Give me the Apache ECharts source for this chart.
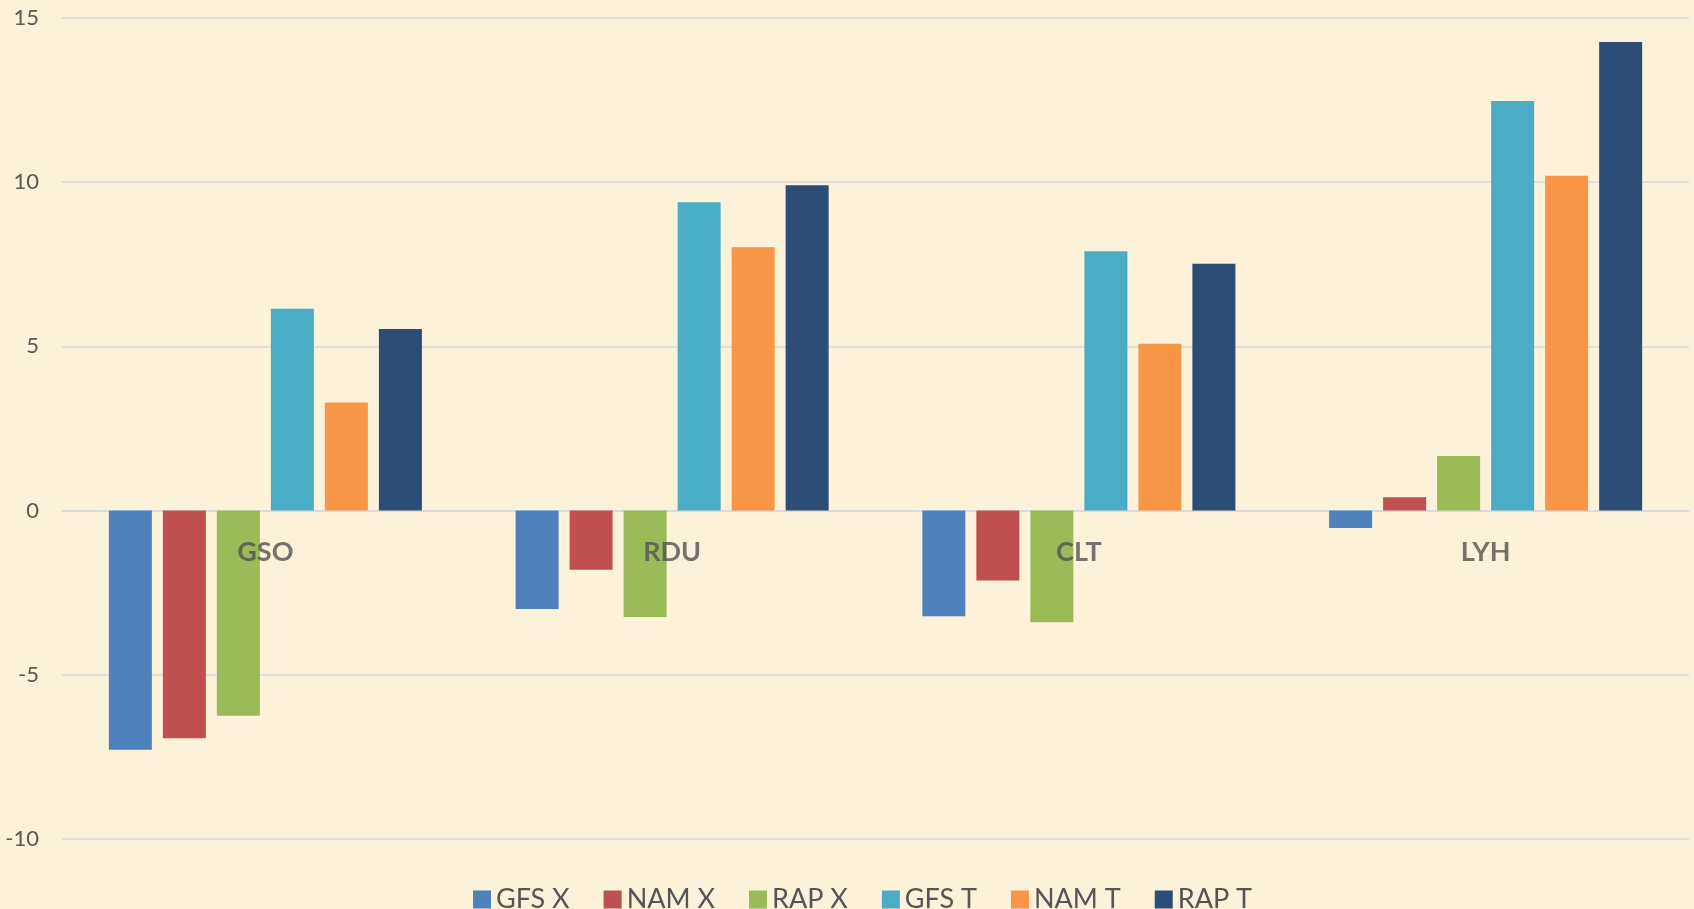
<!DOCTYPE html>
<html>
<head>
<meta charset="utf-8">
<script src="https://cdn.jsdelivr.net/npm/echarts@6/dist/echarts.min.js"></script>
<style>
  html, body { margin: 0; padding: 0; background: #fcf1d9; }
  #chart { width: 1694px; height: 909px; }
</style>
</head>
<body>
<div id="chart"></div>
<script>
// 站点
const categories = ["GSO", "RDU", "CLT", "LYH"];
// 各模式数值
const gfsX = [-7.28, -3.0, -3.22, -0.53];
const namX = [-6.93, -1.8, -2.13, 0.41];
const rapX = [-6.25, -3.24, -3.4, 1.66];
const gfsT = [6.15, 9.39, 7.9, 12.47];
const namT = [3.29, 8.02, 5.08, 10.2];
const rapT = [5.53, 9.91, 7.52, 14.27];
const seriesNames = ["GFS X", "NAM X", "RAP X", "GFS T", "NAM T", "RAP T"];
const seriesData = [gfsX, namX, rapX, gfsT, namT, rapT];
const colors = ["#4f81bd", "#c0504d", "#9bbb59", "#4bacc6", "#f79646", "#2c4d75"];

const chart = echarts.init(document.getElementById("chart"));

// 柱状图系列
const barSeries = seriesNames.map((name, i) => ({
  name: name,
  type: "bar",
  data: seriesData[i],
  barWidth: 43,
  barGap: "25.6%",
}));

// 类目标签贴在零线下方（用不可见散点承载文字）
const labelSeries = {
  name: "labels",
  type: "scatter",
  symbolSize: 0,
  z: 20,
  silent: true,
  data: categories.map((c) => [c, 0]),
  label: {
    show: true,
    position: "bottom",
    distance: 28,
    formatter: (p) => p.data[0],
    fontSize: 27,
    fontWeight: "bold",
    color: "#525252",
    fontFamily: "Lato",
  },
};

const option = {
  animation: false,
  backgroundColor: "#fcf1d9",
  color: colors,
  textStyle: { fontFamily: "Lato" },
  grid: { left: 62, right: 5, top: 18, bottom: 70 },
  legend: {
    top: 881,
    left: 468,
    itemWidth: 18,
    itemHeight: 18,
    itemGap: 34,
    icon: "rect",
    textStyle: { fontSize: 27, color: "#555555", fontFamily: "Lato" },
    data: seriesNames,
  },
  xAxis: {
    type: "category",
    data: categories,
    axisTick: { show: false },
    axisLine: { show: true, onZero: true, lineStyle: { color: "#d9d9dc", width: 1.5 } },
    axisLabel: { show: false },
  },
  yAxis: {
    type: "value",
    min: -10,
    max: 15,
    interval: 5,
    axisLine: { show: false },
    axisTick: { show: false },
    axisLabel: { fontSize: 22, color: "#595959", margin: 23, fontFamily: "Lato" },
    splitLine: { lineStyle: { color: "#d6d9e2", width: 1.5 } },
  },
  series: [...barSeries, labelSeries],
};

chart.setOption(option);
</script>
</body>
</html>
